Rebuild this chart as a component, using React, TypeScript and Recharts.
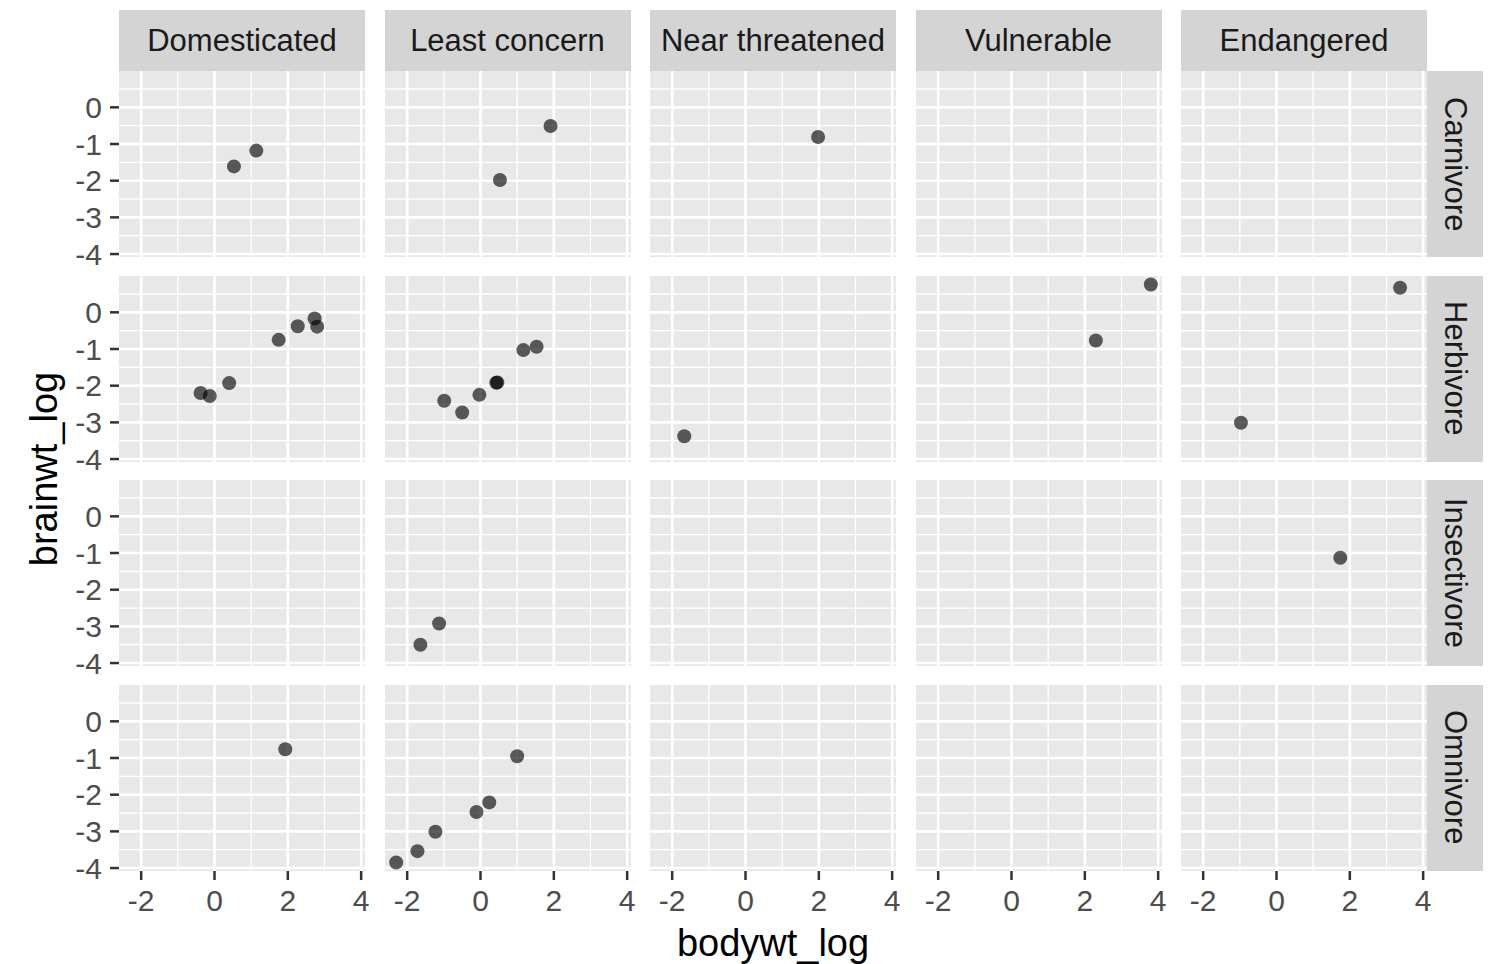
import React from 'react';
import { ScatterChart, Scatter, XAxis, YAxis, CartesianGrid, ReferenceLine } from 'recharts';

type Obs = { status: string; bodywt_log: number; brainwt_log: number };

// Facet levels
const statuses = ['Domesticated', 'Least concern', 'Near threatened', 'Vulnerable', 'Endangered'];
const diets = ['Carnivore', 'Herbivore', 'Insectivore', 'Omnivore'];

// Observations (log10 body weight vs log10 brain weight), grouped by diet
const carnivore: Obs[] = [
  { status: 'Domesticated', bodywt_log: 0.53, brainwt_log: -1.61 },
  { status: 'Domesticated', bodywt_log: 1.14, brainwt_log: -1.18 },
  { status: 'Least concern', bodywt_log: 1.91, brainwt_log: -0.51 },
  { status: 'Least concern', bodywt_log: 0.53, brainwt_log: -1.98 },
  { status: 'Near threatened', bodywt_log: 1.98, brainwt_log: -0.81 },
];

const herbivore: Obs[] = [
  { status: 'Domesticated', bodywt_log: -0.38, brainwt_log: -2.2 },
  { status: 'Domesticated', bodywt_log: -0.13, brainwt_log: -2.28 },
  { status: 'Domesticated', bodywt_log: 0.4, brainwt_log: -1.93 },
  { status: 'Domesticated', bodywt_log: 1.75, brainwt_log: -0.75 },
  { status: 'Domesticated', bodywt_log: 2.27, brainwt_log: -0.38 },
  { status: 'Domesticated', bodywt_log: 2.73, brainwt_log: -0.17 },
  { status: 'Domesticated', bodywt_log: 2.8, brainwt_log: -0.39 },
  { status: 'Least concern', bodywt_log: -0.99, brainwt_log: -2.41 },
  { status: 'Least concern', bodywt_log: -0.5, brainwt_log: -2.73 },
  { status: 'Least concern', bodywt_log: -0.03, brainwt_log: -2.25 },
  { status: 'Least concern', bodywt_log: 0.43, brainwt_log: -1.92 },
  { status: 'Least concern', bodywt_log: 0.46, brainwt_log: -1.91 },
  { status: 'Least concern', bodywt_log: 1.17, brainwt_log: -1.03 },
  { status: 'Least concern', bodywt_log: 1.53, brainwt_log: -0.94 },
  { status: 'Near threatened', bodywt_log: -1.67, brainwt_log: -3.38 },
  { status: 'Vulnerable', bodywt_log: 3.8, brainwt_log: 0.76 },
  { status: 'Vulnerable', bodywt_log: 2.3, brainwt_log: -0.77 },
  { status: 'Endangered', bodywt_log: 3.37, brainwt_log: 0.67 },
  { status: 'Endangered', bodywt_log: -0.97, brainwt_log: -3.01 },
];

const insectivore: Obs[] = [
  { status: 'Least concern', bodywt_log: -1.64, brainwt_log: -3.5 },
  { status: 'Least concern', bodywt_log: -1.13, brainwt_log: -2.92 },
  { status: 'Endangered', bodywt_log: 1.74, brainwt_log: -1.13 },
];

const omnivore: Obs[] = [
  { status: 'Domesticated', bodywt_log: 1.93, brainwt_log: -0.76 },
  { status: 'Least concern', bodywt_log: -2.3, brainwt_log: -3.85 },
  { status: 'Least concern', bodywt_log: -1.72, brainwt_log: -3.54 },
  { status: 'Least concern', bodywt_log: -1.23, brainwt_log: -3.01 },
  { status: 'Least concern', bodywt_log: -0.11, brainwt_log: -2.47 },
  { status: 'Least concern', bodywt_log: 0.24, brainwt_log: -2.21 },
  { status: 'Least concern', bodywt_log: 1.0, brainwt_log: -0.95 },
];

// Axis breaks
const xTicks = [-2, 0, 2, 4];
const xMinor = [-3, -1, 1, 3];
const yTicks = [0, -1, -2, -3, -4];
const yMinor = [0.5, -0.5, -1.5, -2.5, -3.5];

const dietData: Record<string, Obs[]> = {
  Carnivore: carnivore,
  Herbivore: herbivore,
  Insectivore: insectivore,
  Omnivore: omnivore,
};

// Shared scales with 5% padding on each side
function expand(vals: number[]): [number, number] {
  const lo = Math.min(...vals);
  const hi = Math.max(...vals);
  const pad = (hi - lo) * 0.05;
  return [lo - pad, hi + pad];
}
const allObs = [...carnivore, ...herbivore, ...insectivore, ...omnivore];
const xDomain = expand(allObs.map((d) => d.bodywt_log));
const yDomain = expand(allObs.map((d) => d.brainwt_log));

// Layout
const PANEL_W = 246;
const PANEL_H = 186;
const COL_STEP = 265.5;
const ROW_STEP = 204.5;
const LEFT0 = 119;
const TOP0 = 71;
const Y_AXIS_W = 70;
const X_AXIS_H = 60;
const SPILL = 18; // room for tick labels that sit on a panel edge
const STRIP_TOP = 10;
const STRIP_W = 56;

const PANEL_BG = '#E8E8E8';
const STRIP_BG = '#D4D4D4';
const FONT = '"Liberation Sans", Arial, Helvetica, sans-serif';
const TICK_FONT = 30;
const STRIP_FONT = 31;
const TITLE_FONT = 38;

const Dot = (props: any) => (
  <circle cx={props.cx} cy={props.cy} r={7} fill="#000" fillOpacity={0.63} />
);

function Panel({ row, col }: { row: number; col: number }) {
  const showY = col === 0;
  const showX = row === diets.length - 1;
  const data = dietData[diets[row]].filter((d) => d.status === statuses[col]);
  const w = PANEL_W + (showY ? Y_AXIS_W : 0) + SPILL;
  const h = PANEL_H + (showX ? X_AXIS_H : 0) + SPILL;
  return (
    <div
      style={{
        position: 'absolute',
        left: LEFT0 + col * COL_STEP - (showY ? Y_AXIS_W : 0),
        top: TOP0 + row * ROW_STEP,
      }}
    >
      <ScatterChart width={w} height={h} margin={{ top: 0, right: SPILL, bottom: SPILL, left: 0 }}>
        <CartesianGrid fill={PANEL_BG} stroke="none" horizontal={false} vertical={false} />
        {xMinor.map((v) => (
          <ReferenceLine key={'xm' + v} x={v} stroke="#FFFFFF" strokeWidth={1.3} />
        ))}
        {yMinor.map((v) => (
          <ReferenceLine key={'ym' + v} y={v} stroke="#FFFFFF" strokeWidth={1.3} />
        ))}
        {xTicks.map((v) => (
          <ReferenceLine key={'xM' + v} x={v} stroke="#FFFFFF" strokeWidth={2.6} />
        ))}
        {yTicks.map((v) => (
          <ReferenceLine key={'yM' + v} y={v} stroke="#FFFFFF" strokeWidth={2.6} />
        ))}
        <XAxis
          type="number"
          dataKey="bodywt_log"
          domain={xDomain}
          ticks={xTicks}
          interval={0}
          allowDataOverflow
          hide={!showX}
          height={X_AXIS_H}
          axisLine={false}
          tickLine={{ stroke: '#333333', strokeWidth: 2.5 }}
          tickSize={9}
          tickMargin={10}
          tick={{ fill: '#4D4D4D', fontSize: TICK_FONT }}
        />
        <YAxis
          type="number"
          dataKey="brainwt_log"
          domain={yDomain}
          ticks={yTicks}
          interval={0}
          allowDataOverflow
          hide={!showY}
          width={Y_AXIS_W}
          axisLine={false}
          tickLine={{ stroke: '#333333', strokeWidth: 2.5 }}
          tickSize={9}
          tickMargin={8}
          tick={{ fill: '#4D4D4D', fontSize: TICK_FONT }}
        />
        <Scatter data={data} isAnimationActive={false} shape={Dot} />
      </ScatterChart>
    </div>
  );
}

export default function App() {
  return (
    <div
      style={{
        position: 'absolute',
        left: 0,
        top: 0,
        width: 1501,
        height: 964,
        background: '#FFFFFF',
        fontFamily: FONT,
        overflow: 'hidden',
      }}
    >
      {statuses.map((s, c) => (
        <div
          key={'top' + s}
          style={{
            position: 'absolute',
            left: LEFT0 + c * COL_STEP,
            top: STRIP_TOP,
            width: PANEL_W,
            height: TOP0 - STRIP_TOP,
            background: STRIP_BG,
            color: '#1A1A1A',
            fontSize: STRIP_FONT,
            lineHeight: `${TOP0 - STRIP_TOP}px`,
            textAlign: 'center',
          }}
        >
          {s}
        </div>
      ))}
      {diets.map((d, r) => (
        <div
          key={'side' + d}
          style={{
            position: 'absolute',
            left: LEFT0 + (statuses.length - 1) * COL_STEP + PANEL_W,
            top: TOP0 + r * ROW_STEP,
            width: STRIP_W,
            height: PANEL_H,
            background: STRIP_BG,
            color: '#1A1A1A',
            fontSize: STRIP_FONT,
            display: 'flex',
            alignItems: 'center',
            justifyContent: 'center',
          }}
        >
          <span style={{ writingMode: 'vertical-rl' }}>{d}</span>
        </div>
      ))}
      {diets.map((d, r) =>
        statuses.map((s, c) => <Panel key={d + s} row={r} col={c} />)
      )}
      <div
        style={{
          position: 'absolute',
          left: LEFT0,
          width: 4 * COL_STEP + PANEL_W,
          top: 918,
          height: 50,
          lineHeight: '50px',
          fontSize: TITLE_FONT,
          color: '#000000',
          textAlign: 'center',
        }}
      >
        bodywt_log
      </div>
      <div
        style={{
          position: 'absolute',
          left: 44 - 200,
          top: 469 - 25,
          width: 400,
          height: 50,
          lineHeight: '50px',
          fontSize: TITLE_FONT,
          color: '#000000',
          textAlign: 'center',
          transform: 'rotate(-90deg)',
        }}
      >
        brainwt_log
      </div>
    </div>
  );
}
